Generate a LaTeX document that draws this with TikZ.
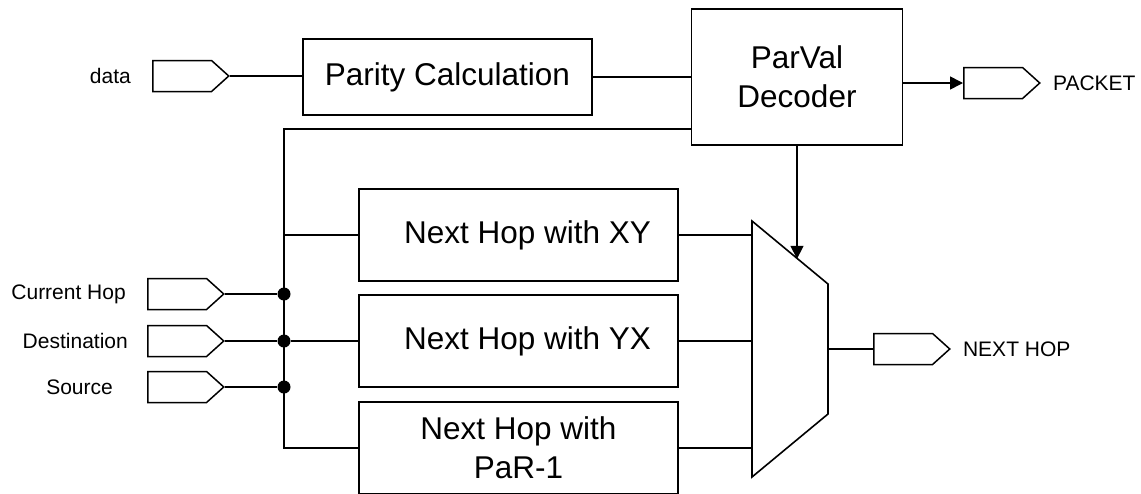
\documentclass[tikz,border=0pt]{standalone}
\usepackage{fontspec}
\setmainfont{Liberation Sans}
\usetikzlibrary{positioning,calc,shapes.symbols,arrows.meta}
\tikzset{
  blk/.style={draw, line width=1.5pt, inner sep=0pt, align=center,
    font=\fontsize{31.5}{39}\selectfont},
  port/.style={draw, line width=1.5pt, signal, signal to=east, anchor=west,
    signal pointer angle=84, minimum width=76pt, minimum height=31pt, inner sep=0pt},
  lbl/.style={inner sep=0pt, font=\fontsize{21}{25}\selectfont},
  dot/.style={circle, fill, inner sep=0pt, minimum size=13pt},
  wire/.style={line width=1.6pt},
  tip/.style={-{Triangle[length=13pt,width=13pt]}},
}
\begin{document}
\begin{tikzpicture}[x=1pt,y=-1pt]
\useasboundingbox (0,0) rectangle (1141,493);
% blocks
\node[blk, minimum width=289pt, minimum height=76pt] (parity) at (447.5,77) {Parity Calculation};
\node[blk, minimum width=211pt, minimum height=136pt] (dec) at (797,77) {ParVal\\Decoder};
\node[blk, minimum width=319pt, minimum height=92pt] (xy) at (518.5,235) {\hspace*{18pt}Next Hop with XY};
\node[blk, minimum width=319pt, minimum height=92pt] (yx) at (518.5,341) {\hspace*{18pt}Next Hop with YX};
\node[blk, minimum width=319pt, minimum height=92pt] (par) at (518.5,448) {Next Hop with\\PaR-1};
% ports
\node[port] (data) at (152,76) {};
\node[port] (cur) at (147,294) {};
\node[port] (dst) at (147,341) {};
\node[port] (src) at (147,387) {};
\node[port] (pkt) at (963,83) {};
\node[port] (nxt) at (873,349) {};
\node[lbl, left=21pt of data] (datalbl) {data};
\node[lbl, left=21pt of cur] (curlbl) {Current Hop};
\node[lbl, left=19pt of dst] (dstlbl) {Destination};
\node[lbl, left=34pt of src] (srclbl) {Source};
\node[lbl, right=12pt of pkt] (pktlbl) {PACKET};
\node[lbl, right=12pt of nxt] (nxtlbl) {NEXT HOP};
% mux
\coordinate (m1) at (752,221);
\coordinate (m2) at (828,284);
\coordinate (m3) at (828,414);
\coordinate (m4) at (752,477);
\draw[wire] (m1) -- (m2) -- (m3) -- (m4) -- cycle;
\coordinate (msel) at ($(m1)!0.6!(m2)$);
\coordinate (mout) at ($(m2)!0.5!(m3)$);
% top path
\draw[wire] (data.east) -- (parity.west |- data.east);
\draw[wire] (parity.east) -- (dec.west |- parity.east);
\draw[wire,tip] (dec.east |- pkt.west) -- (pkt.west);
\draw[wire,tip] (dec.south) -- (dec.south |- msel);
% bus
\coordinate (bustop) at (284,129);
\draw[wire] (dec.west |- bustop) -- (bustop) |- (par.west);
\draw[wire] (bustop |- xy.west) -- (xy.west);
\node[dot] (j1) at (bustop |- cur.east) {};
\node[dot] (j2) at (bustop |- dst.east) {};
\node[dot] (j3) at (bustop |- src.east) {};
\draw[wire] (cur.east) -- (j1);
\draw[wire] (dst.east) -- (j2) -- (yx.west);
\draw[wire] (src.east) -- (j3);
% into mux
\draw[wire] (xy.east) -- (xy.east -| m1);
\draw[wire] (yx.east) -- (yx.east -| m1);
\draw[wire] (par.east) -- (par.east -| m1);
\draw[wire] (mout) -- (nxt.west);
\end{tikzpicture}
\end{document}
